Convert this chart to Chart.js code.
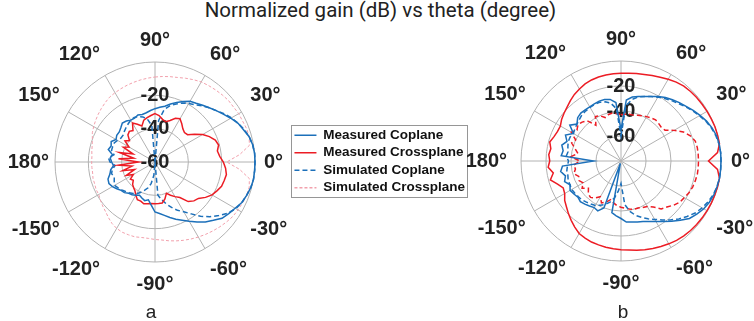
<!DOCTYPE html>
<html><head><meta charset="utf-8">
<script src="https://cdn.jsdelivr.net/npm/chart.js@4.4.1/dist/chart.umd.min.js"></script>
<style>
html,body{margin:0;padding:0;background:#fff;}
body{width:754px;height:321px;overflow:hidden;position:relative;}
#ca{position:absolute;left:-60px;top:-60px;}
#cb{position:absolute;left:400px;top:-60px;}
#title{position:absolute;left:0;top:0;width:761px;text-align:center;font:20.5px Roboto,Lato,sans-serif;line-height:20px;color:#222;}
.cap{position:absolute;width:40px;text-align:center;font:19px "Liberation Sans",Arial,sans-serif;line-height:19px;color:#222;top:302px;}
</style></head>
<body>
<div id="title">Normalized gain (dB) vs theta (degree)</div>
<canvas id="ca" width="540" height="440"></canvas>
<canvas id="cb" width="440" height="440"></canvas>
<div class="cap" style="left:131px">a</div>
<div class="cap" style="left:603px">b</div>
<script>
// ---- data (theta in degrees, counter-clockwise from 0°) ----
const angleDeg = [0,5,10,15,20,25,30,35,40,45,50,55,60,65,70,75,80,85,90,95,100,105,110,115,120,125,130,135,140,145,150,155,160,165,170,175,180,185,190,195,200,205,210,215,220,225,230,235,240,245,250,255,260,265,270,275,280,285,290,295,300,305,310,315,320,325,330,335,340,345,350,355];
const angleTicks = [0,30,60,90,120,150,180,-150,-120,-90,-60,-30];
const radialTicksA = [-60,-40,-20];
const radialTicksB = [-60,-40,-20];
const seriesNames = ['Measured Coplane','Measured Crossplane','Simulated Coplane','Simulated Crossplane'];

// panel a
const measCoA = [0,0,-0.5,-1.5,-3.5,-5,-7.5,-10,-12,-14,
 -15.5,-17,-18,-20,-22,-24,-26,-27,-28,-29,
 -30,-30.5,-30,-31,-31,-30,-29.5,-31,-32,-32,
 -33,-31,-32,-31,-34,-33,-34,-35,-33,-32,
 -30,-29.5,-30.5,-32,-33.5,-34,-35.5,-36,-37,-38,
 -37,-36,-37,-34,-30,-29,-27.5,-25.5,-23.5,-21.5,
 -19,-16,-13,-10.5,-7.5,-6,-4.5,-2.5,-1.5,-0.5,
 0,0];
const measCrossA = [-19,-21,-22,-20.5,-21.5,-24,-27,-31,-34.5,-35,
 -34,-32,-30,-31,-33.5,-35,-34,-32,-31,-32,
 -33,-34,-37,-35,-33,-37,-36,-37,-40,-38,
 -42,-39,-46,-38,-47,-38,-50,-38,-46,-40,
 -47,-41,-45,-42,-43,-41,-40,-39,-37,-35,
 -35,-34,-34.5,-35,-35,-35,-35,-37,-40,-38,
 -36,-34,-29,-27,-26,-23,-20.5,-19,-17.5,-17,
 -16.5,-17.5];
const simCoA = [0,0,-0.5,-1.5,-3,-5,-7,-9.5,-12,-14,
 -16,-18,-19.5,-21,-23,-25,-28,-35,-60,-38,
 -34,-32,-31,-30.5,-31,-32,-33,-34,-35,-35,
 -34,-33,-33,-33,-35,-32,-33,-36,-34,-33,
 -34,-33,-32,-33,-34,-35,-36,-37,-38,-40,
 -42,-44,-47,-52,-60,-40,-37,-34,-31,-28,
 -25.5,-22,-17.5,-13.5,-10,-6.5,-4,-2.5,-1.5,-0.5,
 0,0];
const simCrossA = [-17,-9,-2.5,-1.5,-1.5,-2,-2,-2.5,-2.5,-3,
 -3.5,-4,-4.5,-5.5,-6.5,-7.5,-8,-8.5,-9,-9.5,
 -10,-10.5,-11,-11.5,-12,-12.5,-13.5,-14.5,-15.5,-16.5,
 -17.5,-18.5,-20,-21,-21.5,-22,-22,-22,-22,-21.5,
 -21.5,-21,-21,-20,-19,-18,-16.5,-15,-14,-13.5,
 -13.5,-13.5,-14,-14,-13.5,-13,-12,-11,-10,-9,
 -8,-7,-6,-5,-4,-3,-2.5,-2,-1.5,-1.5,
 -2.5,-9];

// panel b
const measCoB = [0,0,-0.3,-1,-2.5,-4.5,-7,-9.5,-12,-14,
 -16,-18,-20.5,-23,-25,-26.5,-28,-31,-55,-33,
 -30,-29,-29,-29.5,-30,-30,-30,-31,-34,-30,
 -36,-31,-34,-31,-33,-32,-58,-33,-31,-34,
 -32,-35,-33,-34,-35,-34,-35,-36,-37,-36,
 -40,-78,-38,-36,-34,-31,-30.5,-29.5,-28.5,-26.5,
 -24,-21,-17,-13,-8.5,-6,-3.5,-2,-1,-0.5,
 0,0];
const measCrossB = [-10,-2.5,0,0,0,-0.3,-0.5,-0.8,-1,-1.3,
 -1.8,-3,-4.5,-6,-7.3,-8.3,-9,-9.5,-9.8,-10,
 -10.2,-10.5,-11,-12,-13.5,-15,-17,-19,-20.5,-22,
 -24,-24,-23,-21,-23,-22,-23,-21.5,-25,-21.5,
 -26,-29,-28,-25,-23,-20.5,-18,-15.5,-13,-12,
 -11,-10.5,-10,-9.5,-9,-8.5,-7.5,-6.5,-5.5,-4.5,
 -3.5,-2.5,-1.8,-1.3,-1,-0.7,-0.5,-0.3,-0.2,0,
 0,-2.5];
const simCoB = [0,0,-0.5,-1.5,-3,-5,-7.5,-10,-12.5,-15,
 -17,-19,-21,-23,-25,-27,-30,-36,-60,-38,
 -33,-31,-30,-30,-30.5,-31,-31.5,-33,-34,-35,
 -36,-35,-35,-36,-37,-36,-38,-37,-36,-36,
 -35,-35,-34.5,-35,-35.5,-36,-37,-38,-39,-41,
 -43,-46,-50,-56,-62,-45,-39,-35,-32,-29,
 -26,-22.5,-18.5,-14.5,-11,-7.5,-5,-3,-1.5,-0.5,
 0,0];
const simCrossB = [-18,-18,-18,-18.5,-21,-25,-31,-37,-38,-37.5,
 -37,-38,-39,-40,-41,-42,-42,-42.5,-43,-42,
 -41,-41.5,-43,-40,-39,-45,-38,-36,-35,-37,
 -34,-40,-38,-42,-45,-40,-47,-42,-43,-41,
 -44,-43,-45,-42,-46,-43,-42,-44,-47,-43,
 -45,-48,-46,-44,-43,-42,-41,-40,-40,-39,
 -38,-35,-30,-28,-25,-22.5,-21.5,-20,-19,-18.5,
 -18,-18];

// ---- build chart order: clockwise from the top (90°) ----
const chartAngles = [];
for (let i = 0; i < angleDeg.length; i++) {
  let t = 90 - angleDeg[i];
  if (t <= -180) t += 360;
  chartAngles.push(t);
}
const reorder = arr => chartAngles.map(t => arr[angleDeg.indexOf(((t % 360) + 360) % 360)]);

const BLUE = 'rgb(28,112,186)';
const RED = 'rgb(236,28,36)';
const PINK = 'rgb(242,160,172)';
const GRID = 'rgb(178,178,178)';
const TXT = '#222';
const FONT = '"Liberation Sans", Arial, sans-serif';

function ds(label, data, color, dash, width) {
  return {label, data: reorder(data), borderColor: color, backgroundColor: 'rgba(0,0,0,0)',
    borderWidth: width, borderDash: dash, pointRadius: 0, pointHoverRadius: 0, fill: false, tension: 0};
}

const legendBox = {
  id: 'legendBox',
  afterDraw(chart) {
    const lg = chart.legend;
    if (!lg || !lg.options.display || !lg.legendHitBoxes || !lg.legendHitBoxes.length) return;
    let l = Infinity, t = Infinity, r = -Infinity, b = -Infinity;
    lg.legendHitBoxes.forEach(h => { l = Math.min(l, h.left); t = Math.min(t, h.top); r = Math.max(r, h.left + h.width); b = Math.max(b, h.top + h.height); });
    const ctx = chart.ctx;
    ctx.save();
    ctx.strokeStyle = 'rgb(150,150,150)';
    ctx.lineWidth = 1;
    ctx.setLineDash([]);
    ctx.strokeRect(Math.round(l - 3) + 0.5, Math.round(t - 4) + 0.5, Math.round(r - l + 5), Math.round(b - t + 6));
    ctx.restore();
  }
};

function makeChart(id, cfg) {
  const idx180 = chartAngles.indexOf(180), idx0 = chartAngles.indexOf(0);
  return new Chart(document.getElementById(id), {
    type: 'radar',
    data: {labels: chartAngles, datasets: cfg.datasets},
    plugins: cfg.legend ? [legendBox] : [],
    options: {
      responsive: false, animation: false,
      layout: {padding: cfg.padding || 0},
      plugins: {
        tooltip: {enabled: false},
        legend: cfg.legend ? {
          display: true, position: 'right', align: 'center',
          labels: {
            usePointStyle: true, pointStyle: 'line', pointStyleWidth: 22,
            padding: 4, color: '#111',
            font: {family: FONT, size: 13.5, weight: 'bold'},
            generateLabels: chart => Chart.defaults.plugins.legend.labels.generateLabels(chart).map(it => {
              const d = chart.data.datasets[it.datasetIndex];
              return Object.assign(it, {lineDash: d.borderDash || [], strokeStyle: d.borderColor, lineWidth: Math.max(d.borderWidth, 1.5), pointStyle: 'line'});
            })
          }
        } : {display: false}
      },
      scales: {
        r: {
          min: cfg.min, max: 0, startAngle: 0,
          afterSetDimensions: s => { s.xCenter = cfg.cx; s.yCenter = cfg.cy; s.drawingArea = 100; },
          grid: {circular: true, color: GRID, lineWidth: 1},
          angleLines: {display: true, color: GRID, lineWidth: c => angleTicks.includes(chartAngles[c.index]) ? 1 : 0},
          pointLabels: {
            display: true, color: TXT,
            font: {family: FONT, size: 20, weight: 'bold', lineHeight: 1.2},
            padding: c => c.index === idx180 ? cfg.pad180 : (c.index === idx0 ? cfg.pad0 : 0),
            callback: (lbl, i) => angleTicks.includes(chartAngles[i]) ? chartAngles[i] + '°' : ''
          },
          ticks: {
            display: true, stepSize: 20, showLabelBackdrop: false, backdropPadding: 0, color: TXT,
            font: {family: FONT, size: 20, weight: 'bold'},
            callback: v => cfg.ticks.includes(v) ? String(v) : ''
          }
        }
      }
    }
  });
}

makeChart('ca', {
  min: -60, cx: 215, cy: 222, pad180: -4, pad0: -1, ticks: radialTicksA, legend: true,
  padding: {right: 5, top: 3},
  datasets: [
    ds(seriesNames[0], measCoA, BLUE, [], 1.5),
    ds(seriesNames[1], measCrossA, RED, [], 1.5),
    ds(seriesNames[2], simCoA, BLUE, [5, 3], 1.5),
    ds(seriesNames[3], simCrossA, PINK, [3, 2], 1)
  ]
});
makeChart('cb', {
  min: -80, cx: 221, cy: 221, pad180: 4, pad0: 0, ticks: radialTicksB, legend: false,
  datasets: [
    ds(seriesNames[0], measCoB, BLUE, [], 1.5),
    ds(seriesNames[1], measCrossB, RED, [], 1.5),
    ds(seriesNames[2], simCoB, BLUE, [5, 3], 1.5),
    ds(seriesNames[3], simCrossB, RED, [5, 3], 1.5)
  ]
});
</script>
</body></html>
